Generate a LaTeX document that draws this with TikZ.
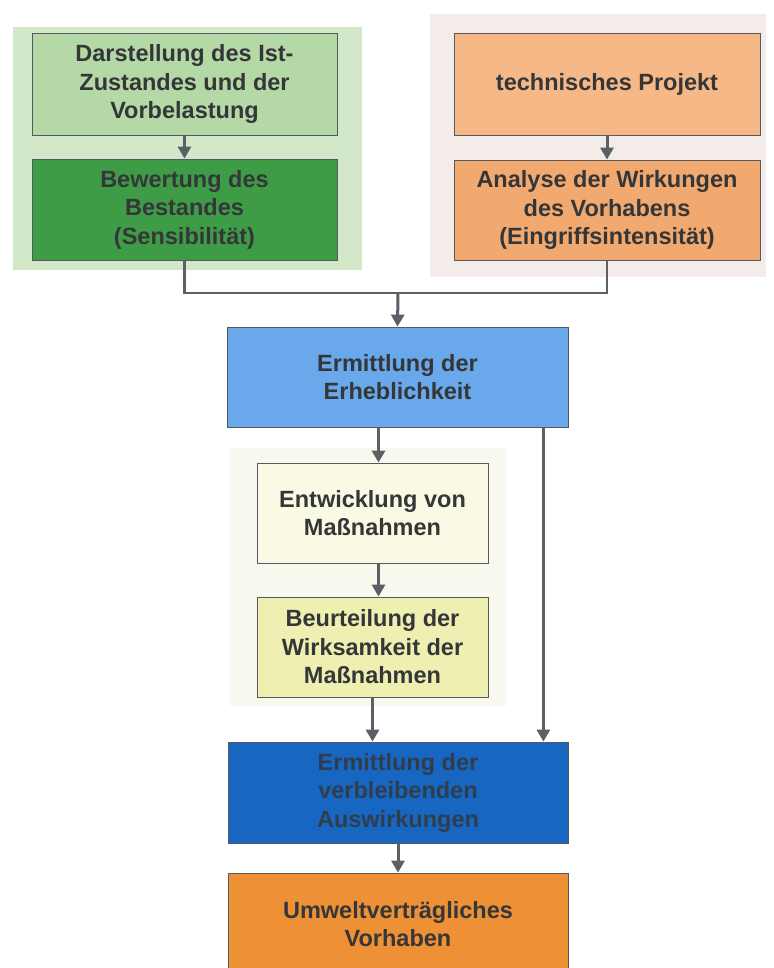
\documentclass[tikz,border=0pt]{standalone}
\usepackage{fontspec}
\setmainfont{Liberation Sans}
\usetikzlibrary{arrows.meta}

\definecolor{lgreen}{HTML}{D2E8C8}
\definecolor{green1}{HTML}{B4D9A6}
\definecolor{green2}{HTML}{3E9C46}
\definecolor{lrose}{HTML}{F3ECE8}
\definecolor{orange1}{HTML}{F5B886}
\definecolor{orange2}{HTML}{F2A970}
\definecolor{orange3}{HTML}{EE9036}
\definecolor{blue1}{HTML}{69A8EA}
\definecolor{blue2}{HTML}{1766C2}
\definecolor{lyellow}{HTML}{F8F8EE}
\definecolor{yellow1}{HTML}{FAFAE4}
\definecolor{yellow2}{HTML}{EFEFB2}
\definecolor{boxline}{HTML}{55595E}
\definecolor{arrgray}{HTML}{5B6067}
\definecolor{txt}{HTML}{353638}

\begin{document}
\begin{tikzpicture}[x=1pt, y=-1pt,
	box/.style={draw=boxline, line width=0.8pt, align=center, inner sep=0pt,
		font=\fontsize{23.5}{28.5}\selectfont\bfseries, text=txt},
	arr/.style={draw=arrgray, line width=3pt, -{Triangle[width=13pt,length=12pt]}},
	link/.style={draw=arrgray, line width=2.8pt}]
	
	\clip (0,0) rectangle (773,968);
	\fill[white] (0,0) rectangle (773,968);
	
	% panels behind the boxes
	\fill[lgreen] (13,27) rectangle (362,270);
	\fill[lrose] (430,14) rectangle (766,277);
	\fill[lyellow] (230,448) rectangle (506,706);
	
	% upper row
	\node[box, fill=green1, minimum width=305, minimum height=102] (dar) at (184.5,84)
		{Darstellung des Ist-\\Zustandes und der\\Vorbelastung};
	\node[box, fill=green2, minimum width=305, minimum height=101] (bew) at (184.5,209.5)
		{Bewertung des\\Bestandes\\(Sensibilität)};
	\node[box, fill=orange1, minimum width=306, minimum height=102] (tech) at (607,84)
		{technisches Projekt};
	\node[box, fill=orange2, minimum width=306, minimum height=100] (ana) at (607,210)
		{Analyse der Wirkungen\\des Vorhabens\\(Eingriffsintensität)};
	
	% middle and lower boxes
	\node[box, fill=blue1, minimum width=341, minimum height=100] (erh) at (397.5,377)
		{Ermittlung der\\Erheblichkeit};
	\node[box, fill=yellow1, minimum width=231, minimum height=100] (ent) at (372.5,513)
		{Entwicklung von\\Maßnahmen};
	\node[box, fill=yellow2, minimum width=231, minimum height=100] (beu) at (372.5,647)
		{Beurteilung der\\Wirksamkeit der\\Maßnahmen};
	\node[box, fill=blue2, text=txt!85!blue2, minimum width=340, minimum height=101] (verb) at (398,792.5)
		{Ermittlung der\\verbleibenden\\Auswirkungen};
	\node[box, fill=orange3, minimum width=340, minimum height=102] (umw) at (398,924)
		{Umweltverträgliches\\Vorhaben};
	
	\coordinate (join) at (398,293);
	
	\draw[arr] (dar) -- (bew);
	\draw[arr] (tech) -- (ana);
	\draw[link] (bew.south) |- (join) -| (ana.south);
	\draw[arr] (join) -- (erh.north);
	\draw[arr] ([xshift=6pt]ent.north |- erh.south) -- ([xshift=6pt]ent.north);
	\draw[arr] ([xshift=6pt]ent.south) -- ([xshift=6pt]beu.north);
	\draw[arr] (beu.south) -- (beu.south |- verb.north);
	\draw[arr] ([xshift=-25pt]erh.south east) -- ([xshift=-25pt]verb.north east);
	\draw[arr] (verb) -- (umw);
	
\end{tikzpicture}
\end{document}
